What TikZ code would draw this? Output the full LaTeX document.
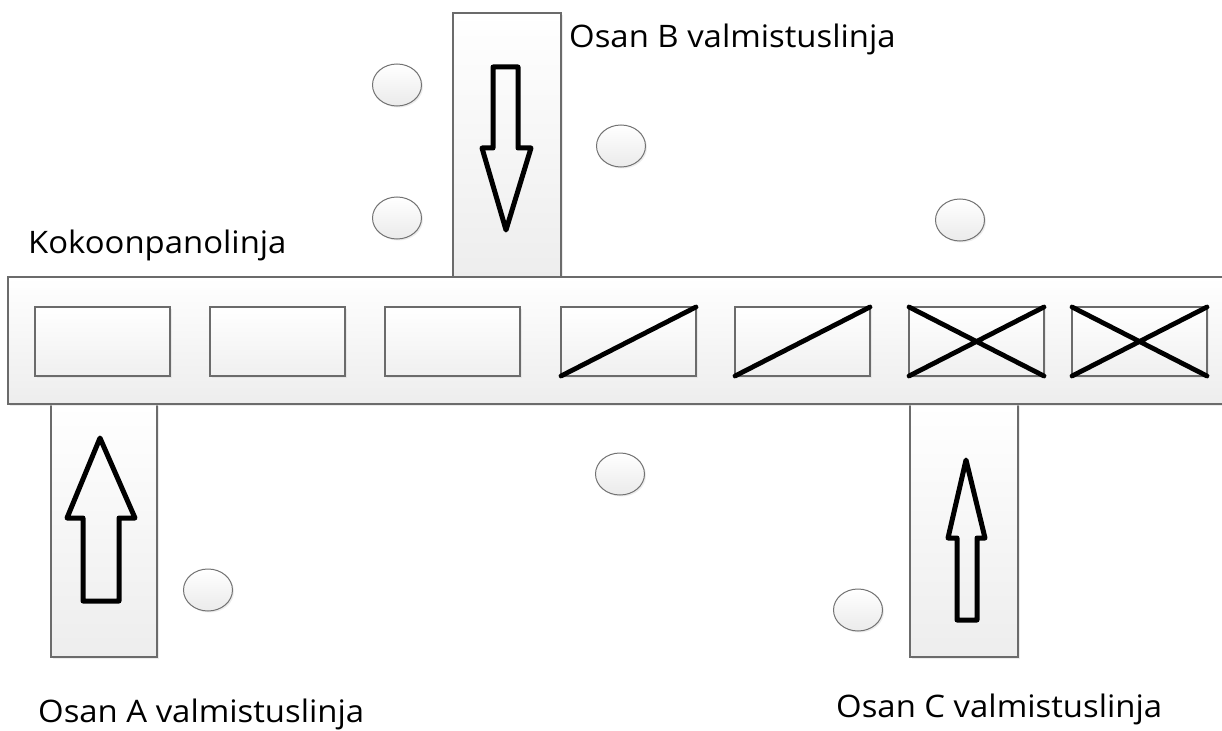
\documentclass[tikz,border=0pt]{standalone}
\usepackage{fontspec}
\setmainfont{Open Sans}
\usetikzlibrary{shapes.geometric,shadows}
\begin{document}
\begin{tikzpicture}[x=1pt,y=-1pt,
  panel/.style={draw=black!58, line width=1.5pt, top color=white, bottom color=black!7,
    inner sep=0pt, outer sep=0pt, anchor=north west,
    drop shadow={shadow xshift=2pt, shadow yshift=-2pt, fill=black!14}},
  slot/.style={draw=black!58, line width=1.5pt, top color=white, bottom color=black!6,
    inner sep=0pt, outer sep=0pt, anchor=north west, minimum width=135pt, minimum height=69pt,
    drop shadow={shadow xshift=2pt, shadow yshift=-2pt, fill=black!14}},
  dot/.style={ellipse, draw=black!55, line width=1pt, top color=white, bottom color=black!8,
    minimum width=49pt, minimum height=42pt, inner sep=0pt,
    drop shadow={shadow xshift=1.5pt, shadow yshift=-1.5pt, fill=black!14}},
  heavy/.style={line width=4.8pt, line cap=round, black},
  arrowline/.style={draw=black, line width=5pt, line join=round},
  label/.style={anchor=base west, inner sep=0pt, text=black, font=\fontsize{31}{36}\selectfont}]
\useasboundingbox (0,0) rectangle (1222,730);
\fill[white] (0,0) rectangle (1222,730);
% vertical production lines
\node[panel, minimum width=108pt, minimum height=264pt] (lineB) at (453,13) {};
\node[panel, minimum width=106pt, minimum height=253pt] (lineA) at (51,404) {};
\node[panel, minimum width=108pt, minimum height=253pt] (lineC) at (910,404) {};
% assembly line
\node[panel, minimum width=1240pt, minimum height=127pt] (bar) at (8,277) {};
% slots
\node[slot] (s1) at (35,307) {};
\node[slot] (s2) at (210,307) {};
\node[slot] (s3) at (385,307) {};
\node[slot] (s4) at (561,307) {};
\node[slot] (s5) at (735,307) {};
\node[slot] (s6) at (909,307) {};
\node[slot] (s7) at (1072,307) {};
\draw[heavy] (s4.south west) -- (s4.north east);
\draw[heavy] (s5.south west) -- (s5.north east);
\draw[heavy] (s6.south west) -- (s6.north east) (s6.north west) -- (s6.south east);
\draw[heavy] (s7.south west) -- (s7.north east) (s7.north west) -- (s7.south east);
% arrows
\draw[arrowline] (493,67) -- (518,67) -- (518,148) -- (531,148) -- (506,230) -- (482,148) -- (493,148) -- cycle;
\draw[arrowline] (100,438) -- (135,518) -- (119,518) -- (119,601) -- (83,601) -- (83,518) -- (67,518) -- cycle;
\draw[arrowline] (966,460) -- (985,538) -- (977,538) -- (977,620) -- (957,620) -- (957,538) -- (948,538) -- cycle;
% circles
\node[dot] (c1) at (397,85) {};
\node[dot] (c2) at (621,146) {};
\node[dot] (c3) at (397,218) {};
\node[dot] (c4) at (960,220) {};
\node[dot] (c5) at (620,474) {};
\node[dot] (c6) at (208,590) {};
\node[dot] (c7) at (858,610) {};
% labels
\node[label] (tB) at (569,48) {\scalebox{1.06}[1]{Osan B valmistuslinja}};
\node[label] (tK) at (28,253) {\scalebox{1.06}[1]{Kokoonpanolinja}};
\node[label] (tA) at (38,722) {\scalebox{1.06}[1]{Osan A valmistuslinja}};
\node[label] (tC) at (836,717) {\scalebox{1.06}[1]{Osan C valmistuslinja}};
\end{tikzpicture}
\end{document}
